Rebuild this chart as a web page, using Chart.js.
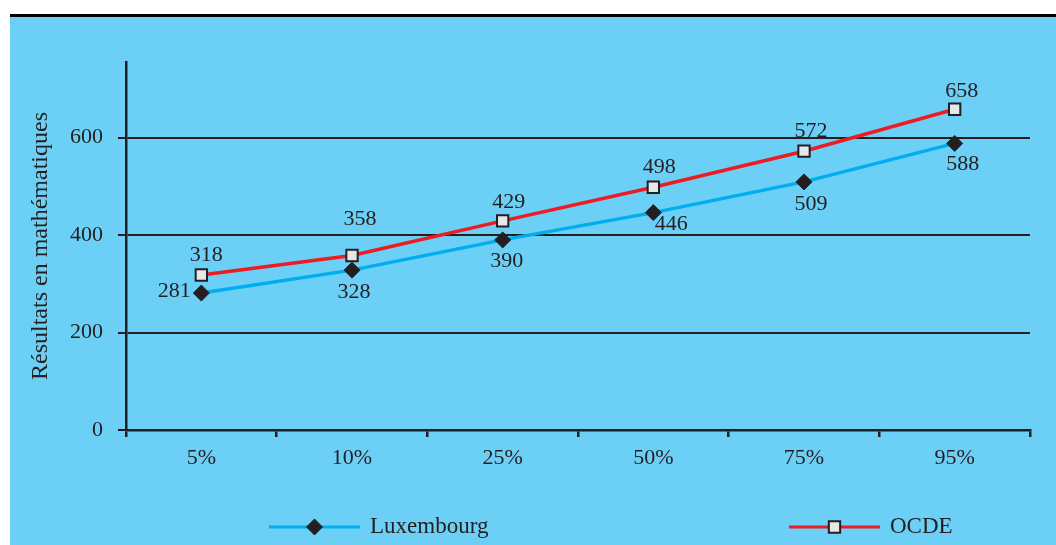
<!DOCTYPE html>
<html>
<head>
<meta charset="utf-8">
<script src="https://cdn.jsdelivr.net/npm/chart.js@4"></script>
<style>
  html, body { margin: 0; padding: 0; background: #fff; }
  #topRule { position: absolute; left: 10px; top: 14px; width: 1046px; height: 3px; background: #000; }
  #panel { position: absolute; left: 10px; top: 17px; width: 1046px; height: 528px; background: #6ccff6; }
  #chart { display: block; }
</style>
</head>
<body>
<div id="topRule"></div>
<div id="panel"><canvas id="chart" width="1046" height="528"></canvas></div>
<script>
const percentiles = ['5%', '10%', '25%', '50%', '75%', '95%'];
const luxembourg = [281, 328, 390, 446, 509, 588];
const ocde = [318, 358, 429, 498, 572, 658];
const yTicks = [0, 200, 400, 600];

const ink = '#231f20';
const serif = "'Liberation Serif', 'DejaVu Serif', serif";

// where each value label sits relative to its point (px)
const luxLabelShift = [[-27, -2], [2, 22], [4, 21], [18, 12], [7, 22], [8, 21]];
const ocdeLabelShift = [[5, -20], [8, -36], [6, -19], [6, -20], [7, -20], [7, -18]];

const valueLabels = {
    id: 'valueLabels',
    afterDatasetsDraw(chart) {
        const ctx = chart.ctx;
        const shifts = [luxLabelShift, ocdeLabelShift];
        ctx.save();
        ctx.font = '22px ' + serif;
        ctx.fillStyle = ink;
        ctx.textAlign = 'center';
        ctx.textBaseline = 'middle';
        chart.data.datasets.forEach((ds, i) => {
            chart.getDatasetMeta(i).data.forEach((pt, j) => {
                const [dx, dy] = shifts[i][j];
                ctx.fillText(String(ds.data[j]), pt.x + dx, pt.y + dy);
            });
        });
        ctx.restore();
    }
};

// legend drawn by hand: a line with the marker in the middle, then the name
const bottomLegend = {
    id: 'bottomLegend',
    afterDraw(chart) {
        const ctx = chart.ctx;
        const y = 510;
        const items = [{ x0: 259, x1: 350, ds: chart.data.datasets[0] }, { x0: 779, x1: 870, ds: chart.data.datasets[1] }];
        ctx.save();
        items.forEach(it => {
            ctx.strokeStyle = it.ds.borderColor;
            ctx.lineWidth = 3;
            ctx.beginPath();
            ctx.moveTo(it.x0, y);
            ctx.lineTo(it.x1, y);
            ctx.stroke();
            ctx.fillStyle = it.ds.pointBackgroundColor;
            ctx.strokeStyle = it.ds.pointBorderColor;
            ctx.lineWidth = it.ds.pointBorderWidth;
            Chart.helpers.drawPoint(ctx, { pointStyle: it.ds.pointStyle, radius: it.ds.pointRadius, borderWidth: it.ds.pointBorderWidth }, (it.x0 + it.x1) / 2, y);
            ctx.fillStyle = ink;
            ctx.font = '23px ' + serif;
            ctx.textAlign = 'left';
            ctx.textBaseline = 'middle';
            ctx.fillText(it.ds.label, it.x1 + 10, y);
        });
        ctx.restore();
    }
};

new Chart(document.getElementById('chart'), {
    type: 'line',
    data: {
        labels: percentiles,
        datasets: [
            {
                label: 'Luxembourg', data: luxembourg,
                borderColor: '#00aeef', borderWidth: 3.5,
                pointStyle: 'rectRot', pointRadius: 8,
                pointBackgroundColor: ink, pointBorderColor: ink, pointBorderWidth: 1
            },
            {
                label: 'OCDE', data: ocde,
                borderColor: '#ed1c24', borderWidth: 3.5,
                pointStyle: 'rect', pointRadius: 8,
                pointBackgroundColor: '#e6e7e8', pointBorderColor: ink, pointBorderWidth: 2
            }
        ]
    },
    options: {
        responsive: false,
        animation: false,
        layout: { padding: { top: 45, right: 26, bottom: 75, left: 0 } },
        plugins: { legend: { display: false }, tooltip: { enabled: false } },
        scales: {
            x: {
                offset: true,
                afterFit: s => { s.height = 40; },
                grid: { drawOnChartArea: false, drawTicks: true, tickLength: 7, color: ink, lineWidth: 2.5, offset: true },
                border: { display: true, color: ink, width: 2.5 },
                ticks: { color: ink, font: { family: serif, size: 22 }, padding: 8 }
            },
            y: {
                min: 0, max: 755,
                afterFit: s => { s.width = 116; },
                afterBuildTicks: s => { s.ticks = yTicks.map(v => ({ value: v })); },
                grid: { color: ink, lineWidth: 2, tickLength: 8 },
                border: { display: true, color: ink, width: 2.5 },
                ticks: { color: ink, font: { family: serif, size: 22 }, padding: 15 },
                title: { display: true, text: 'Résultats en mathématiques', color: ink, font: { family: serif, size: 24 }, padding: { top: 16, bottom: 0 } }
            }
        }
    },
    plugins: [valueLabels, bottomLegend]
});
</script>
</body>
</html>
